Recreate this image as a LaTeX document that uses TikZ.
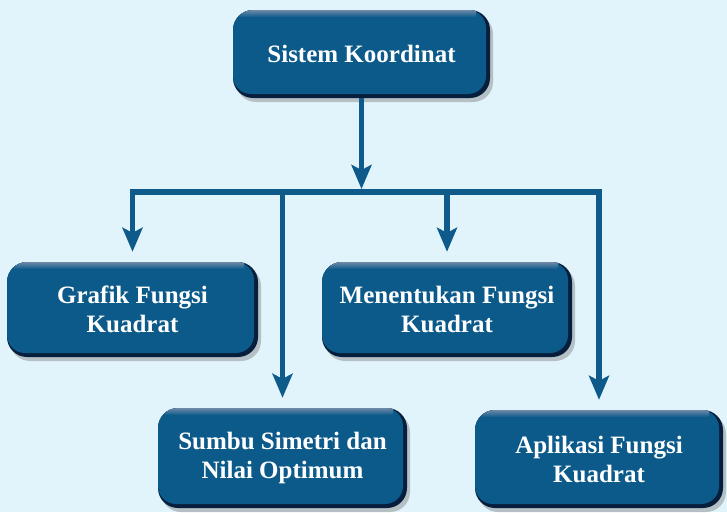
\documentclass[tikz,border=0pt]{standalone}
\usepackage{fontspec}
\setmainfont{Liberation Serif}
\usetikzlibrary{arrows.meta,shadows}
\definecolor{bgc}{HTML}{E1F4FB}
\definecolor{boxc}{HTML}{0C5A8A}
\definecolor{boxdark}{HTML}{071F3D}
\definecolor{linec}{HTML}{0E5B8B}
\definecolor{boxtop}{HTML}{6E8AA8}
\tikzset{
  box/.style={
    rounded corners=20pt, inner sep=0pt, align=center, text=white,
    font=\fontsize{25}{29}\selectfont\bfseries,
    fill=boxdark,
    drop shadow={shadow xshift=3pt,shadow yshift=-4pt,opacity=.4,fill=black!55},
    path picture={
      \fill[boxc, rounded corners=18pt] (path picture bounding box.north west) rectangle ([xshift=-4pt,yshift=4pt]path picture bounding box.south east);
      \shade[sharp corners, top color=boxtop, bottom color=boxc] ([xshift=6pt]path picture bounding box.north west) rectangle ([xshift=-14pt,yshift=-7pt]path picture bounding box.north east);
    }
  },
  conn/.style={draw=linec, line width=5.5pt},
  arr/.style={conn, -{Stealth[length=24pt,width=20pt,inset=5pt]}}
}
\begin{document}
\begin{tikzpicture}[x=1pt,y=-1pt]
\fill[bgc] (0,0) rectangle (727,512);
\useasboundingbox (0,0) rectangle (727,512);
\node[box, minimum width=257pt, minimum height=88pt] (top) at (361.5,54) {Sistem Koordinat};
\node[box, minimum width=251pt, minimum height=95pt] (g) at (132.5,309.5) {Grafik Fungsi\\Kuadrat};
\node[box, minimum width=250pt, minimum height=95pt] (m) at (447,309.5) {Menentukan Fungsi\\Kuadrat};
\node[box, minimum width=249pt, minimum height=100pt] (s) at (282.5,458) {Sumbu Simetri dan\\Nilai Optimum};
\node[box, minimum width=248pt, minimum height=98pt] (a) at (599,459) {Aplikasi Fungsi\\Kuadrat};
\coordinate (busy) at (0,192);
\draw[arr, shorten >=3pt] (top.south) -- (top.south |- busy);
\draw[arr, shorten >=10pt] (top.south |- busy) -| (g.north);
\draw[arr, shorten >=10pt] (top.south |- busy) -| (a.north);
\draw[arr, shorten >=10pt] (s.north |- busy) -- (s.north);
\draw[arr, shorten >=10pt] (m.north |- busy) -- (m.north);
\end{tikzpicture}
\end{document}
